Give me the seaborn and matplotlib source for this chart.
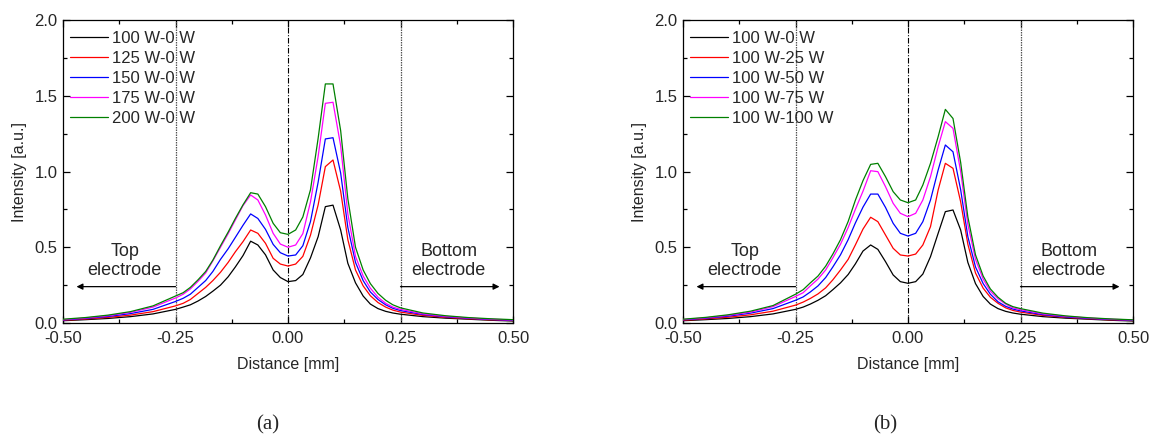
import pandas as pd
import numpy as np
import matplotlib
matplotlib.use('Agg')
import matplotlib.pyplot as plt
import seaborn as sns
from matplotlib.ticker import MultipleLocator, FormatStrFormatter

# distance grid in mm (dense near the centre, coarse in the tails)
distance = [-0.5, -0.45, -0.4, -0.35, -0.3,
            -0.25, -0.233, -0.217, -0.2, -0.183, -0.167, -0.15, -0.133, -0.117, -0.1,
            -0.083, -0.067, -0.05, -0.033, -0.017,
            0.0,
            0.017, 0.033, 0.05, 0.067, 0.083, 0.1, 0.117, 0.133, 0.15, 0.167,
            0.183, 0.2, 0.217, 0.233, 0.25,
            0.3, 0.35, 0.4, 0.45, 0.5]

# (a) top electrode power varied, bottom 0 W
labels_a = ['100 W-0 W', '125 W-0 W', '150 W-0 W', '175 W-0 W', '200 W-0 W']
black_a = [0.015, 0.022, 0.030, 0.042, 0.060,
           0.090, 0.105, 0.120, 0.145, 0.175, 0.210, 0.250, 0.305, 0.370, 0.445,
           0.540, 0.515, 0.450, 0.350, 0.300,
           0.273,
           0.280, 0.320, 0.430, 0.570, 0.768, 0.778, 0.614, 0.394, 0.265, 0.178,
           0.125, 0.095, 0.077, 0.066, 0.058,
           0.042, 0.032, 0.025, 0.018, 0.013]
red_a = [0.018, 0.026, 0.037, 0.052, 0.075,
         0.113, 0.130, 0.155, 0.195, 0.235, 0.280, 0.335, 0.400, 0.470, 0.537,
         0.614, 0.592, 0.526, 0.427, 0.389,
         0.376,
         0.389, 0.440, 0.580, 0.780, 1.032, 1.076, 0.870, 0.550, 0.350, 0.245,
         0.180, 0.135, 0.105, 0.085, 0.072,
         0.050, 0.037, 0.028, 0.021, 0.016]
blue_a = [0.020, 0.030, 0.043, 0.062, 0.090,
          0.142, 0.163, 0.190, 0.235, 0.280, 0.340, 0.420, 0.490, 0.565, 0.645,
          0.720, 0.690, 0.618, 0.519, 0.464,
          0.442,
          0.449, 0.510, 0.670, 0.930, 1.215, 1.223, 0.990, 0.630, 0.400, 0.280,
          0.205, 0.155, 0.120, 0.097, 0.082,
          0.056, 0.041, 0.031, 0.023, 0.018]
magenta_a = [0.022, 0.033, 0.048, 0.070, 0.105,
             0.165, 0.190, 0.225, 0.275, 0.330, 0.410, 0.500, 0.590, 0.680, 0.775,
             0.845, 0.812, 0.713, 0.592, 0.521,
             0.500,
             0.515, 0.590, 0.800, 1.100, 1.450, 1.457, 1.170, 0.720, 0.440, 0.310,
             0.230, 0.170, 0.130, 0.105, 0.090,
             0.060, 0.044, 0.033, 0.025, 0.020]
green_a = [0.025, 0.036, 0.052, 0.075, 0.113,
           0.178, 0.200, 0.235, 0.285, 0.340, 0.415, 0.510, 0.600, 0.690, 0.780,
           0.860, 0.851, 0.768, 0.658, 0.596,
           0.585,
           0.614, 0.700, 0.880, 1.220, 1.578, 1.578, 1.270, 0.820, 0.500, 0.350,
           0.260, 0.195, 0.150, 0.120, 0.100,
           0.066, 0.048, 0.036, 0.028, 0.022]

# (b) top 100 W, bottom electrode power varied
labels_b = ['100 W-0 W', '100 W-25 W', '100 W-50 W', '100 W-75 W', '100 W-100 W']
black_b = [0.015, 0.022, 0.030, 0.042, 0.060,
           0.090, 0.105, 0.125, 0.150, 0.180, 0.220, 0.265, 0.320, 0.390, 0.475,
           0.515, 0.486, 0.405, 0.317, 0.273,
           0.262,
           0.273, 0.323, 0.438, 0.592, 0.735, 0.746, 0.614, 0.400, 0.260, 0.175,
           0.125, 0.095, 0.077, 0.066, 0.058,
           0.042, 0.032, 0.025, 0.018, 0.013]
red_b = [0.018, 0.027, 0.038, 0.054, 0.078,
         0.118, 0.138, 0.162, 0.192, 0.232, 0.285, 0.350, 0.420, 0.515, 0.620,
         0.698, 0.669, 0.581, 0.493, 0.449,
         0.442,
         0.455, 0.515, 0.636, 0.878, 1.054, 1.021, 0.800, 0.520, 0.330, 0.230,
         0.170, 0.130, 0.100, 0.083, 0.072,
         0.050, 0.037, 0.028, 0.021, 0.016]
blue_b = [0.021, 0.031, 0.045, 0.065, 0.095,
          0.150, 0.172, 0.205, 0.245, 0.300, 0.370, 0.450, 0.550, 0.660, 0.765,
          0.851, 0.851, 0.763, 0.658, 0.592,
          0.574,
          0.592, 0.669, 0.812, 1.010, 1.175, 1.130, 0.880, 0.570, 0.370, 0.260,
          0.190, 0.140, 0.110, 0.092, 0.080,
          0.055, 0.040, 0.030, 0.023, 0.018]
magenta_b = [0.023, 0.034, 0.050, 0.072, 0.108,
             0.175, 0.200, 0.245, 0.290, 0.350, 0.430, 0.520, 0.630, 0.750, 0.870,
             1.005, 0.999, 0.900, 0.790, 0.724,
             0.702,
             0.724, 0.812, 0.966, 1.164, 1.329, 1.285, 1.000, 0.650, 0.420, 0.290,
             0.210, 0.160, 0.125, 0.100, 0.088,
             0.060, 0.044, 0.033, 0.025, 0.020]
green_b = [0.025, 0.037, 0.054, 0.078, 0.115,
           0.190, 0.220, 0.265, 0.310, 0.375, 0.455, 0.550, 0.670, 0.810, 0.940,
           1.047, 1.054, 0.966, 0.867, 0.812,
           0.794,
           0.812, 0.911, 1.054, 1.230, 1.410, 1.350, 1.060, 0.700, 0.450, 0.310,
           0.225, 0.170, 0.130, 0.108, 0.095,
           0.065, 0.047, 0.035, 0.027, 0.021]

colors = ['#000000', '#ff0000', '#0000ff', '#ff00ff', '#008000']

sns.set_style('ticks')
plt.rcParams['font.family'] = ['Liberation Sans', 'DejaVu Sans']
plt.rcParams['axes.unicode_minus'] = False


def make_df(labels, series):
    frames = []
    for lab, vals in zip(labels, series):
        frames.append(pd.DataFrame({'Distance': distance, 'Intensity': vals, 'Power': lab}))
    return pd.concat(frames, ignore_index=True)


def draw_panel(ax, labels, series):
    df = make_df(labels, series)
    sns.lineplot(data=df, x='Distance', y='Intensity', hue='Power', hue_order=labels,
                 palette=colors, estimator=None, sort=False, linewidth=0.9, ax=ax, zorder=3)

    # electrode boundaries and centre line
    ax.axvline(-0.25, color='#555555', linestyle=(0, (1.2, 0.8)), linewidth=0.9, zorder=2)
    ax.axvline(0.25, color='#555555', linestyle=(0, (1.2, 0.8)), linewidth=0.9, zorder=2)
    ax.axvline(0.0, color='black', linestyle=(0, (5, 1.5, 1, 1.5)), linewidth=0.8, zorder=2)

    # arrows + labels
    ax.annotate('', xy=(-0.47, 0.24), xytext=(-0.25, 0.24),
                arrowprops=dict(arrowstyle='-|>', color='black', lw=0.9,
                                mutation_scale=9, shrinkA=0, shrinkB=0))
    ax.annotate('', xy=(0.47, 0.24), xytext=(0.25, 0.24),
                arrowprops=dict(arrowstyle='-|>', color='black', lw=0.9,
                                mutation_scale=9, shrinkA=0, shrinkB=0))
    ax.text(-0.363, 0.41, 'Top\nelectrode', ha='center', va='center', fontsize=13,
            linespacing=1.2)
    ax.text(0.357, 0.41, 'Bottom\nelectrode', ha='center', va='center', fontsize=13,
            linespacing=1.2)

    ax.set_xlim(-0.5, 0.5)
    ax.set_ylim(0.0, 2.0)
    ax.xaxis.set_major_locator(MultipleLocator(0.25))
    ax.xaxis.set_minor_locator(MultipleLocator(0.125))
    ax.yaxis.set_major_locator(MultipleLocator(0.5))
    ax.yaxis.set_minor_locator(MultipleLocator(0.25))
    ax.xaxis.set_major_formatter(FormatStrFormatter('%.2f'))
    ax.yaxis.set_major_formatter(FormatStrFormatter('%.1f'))
    ax.tick_params(which='both', direction='in', top=True, right=True,
                   labelsize=12, width=0.9, color='black')
    ax.tick_params(which='major', length=5)
    ax.tick_params(which='minor', length=3)
    ax.tick_params(axis='x', which='major', pad=6)
    ax.tick_params(axis='y', which='major', pad=4)
    for sp in ax.spines.values():
        sp.set_linewidth(0.9)
        sp.set_color('black')

    ax.set_xlabel('Distance [mm]', fontsize=11.5, labelpad=8)
    ax.set_ylabel('Intensity [a.u.]', fontsize=11.5, labelpad=5)

    handles, labs = ax.get_legend_handles_labels()
    ax.legend(handles, labs, loc='upper left', bbox_to_anchor=(0.0, 0.985),
              frameon=False, fontsize=12, handlelength=2.3, handletextpad=0.25,
              labelspacing=0.3, borderaxespad=0.0, borderpad=0.4)


fig = plt.figure(figsize=(11.53, 4.48), dpi=100)
ax_a = fig.add_axes([63 / 1153, 1 - 323 / 448, 450 / 1153, 303 / 448])
ax_b = fig.add_axes([683 / 1153, 1 - 323 / 448, 450 / 1153, 303 / 448])

draw_panel(ax_a, labels_a, [black_a, red_a, blue_a, magenta_a, green_a])
draw_panel(ax_b, labels_b, [black_b, red_b, blue_b, magenta_b, green_b])

fig.text(268 / 1153, 1 - 425 / 448, '(a)', ha='center', va='center', fontsize=15,
         family='Liberation Serif')
fig.text(885 / 1153, 1 - 425 / 448, '(b)', ha='center', va='center', fontsize=15,
         family='Liberation Serif')

fig.savefig('out.png', dpi=100)
